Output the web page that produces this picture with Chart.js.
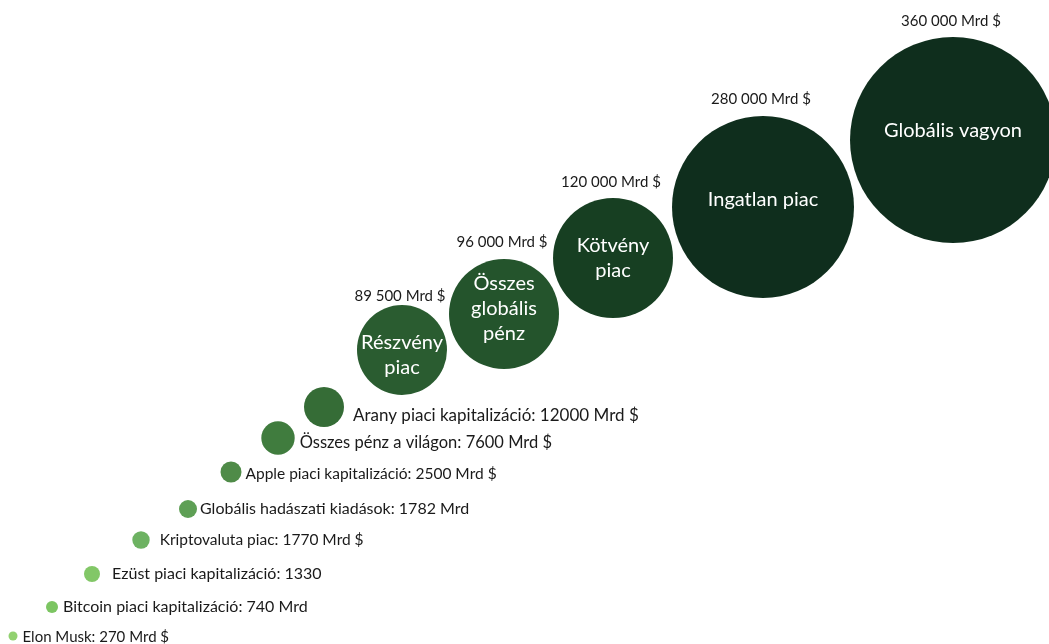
<!DOCTYPE html>
<html>
<head>
<meta charset="utf-8">
<script src="https://cdn.jsdelivr.net/npm/chart.js@4.4.1/dist/chart.umd.min.js"></script>
<style>
  html, body { margin: 0; padding: 0; background: #fff; }
  #wrap { width: 1049px; height: 644px; position: relative; }
</style>
</head>
<body>
<div id="wrap"><canvas id="chart"></canvas></div>
<script>
// items, smallest to largest
const names = [
    'Elon Musk', 'Bitcoin piaci kapitalizáció', 'Ezüst piaci kapitalizáció',
    'Kriptovaluta piac', 'Globális hadászati kiadások', 'Apple piaci kapitalizáció',
    'Összes pénz a világon', 'Arany piaci kapitalizáció', 'Részvény piac',
    'Összes globális pénz', 'Kötvény piac', 'Ingatlan piac', 'Globális vagyon'
];
const values = [270, 740, 1330, 1770, 1782, 2500, 7600, 12000, 89500, 96000, 120000, 280000, 360000];
const valueLabels = [
    'Elon Musk: 270 Mrd $', 'Bitcoin piaci kapitalizáció: 740 Mrd', 'Ezüst piaci kapitalizáció: 1330',
    'Kriptovaluta piac: 1770 Mrd $', 'Globális hadászati kiadások: 1782 Mrd', 'Apple piaci kapitalizáció: 2500 Mrd $',
    'Összes pénz a világon: 7600 Mrd $', 'Arany piaci kapitalizáció: 12000 Mrd $', '89 500 Mrd $',
    '96 000 Mrd $', '120 000 Mrd $', '280 000 Mrd $', '360 000 Mrd $'
];
// text inside the big bubbles
const innerText = [null, null, null, null, null, null, null, null,
    ['Részvény', 'piac'], ['Összes', 'globális', 'pénz'], ['Kötvény', 'piac'], ['Ingatlan piac'], ['Globális vagyon']];
// bubble position (x, y) and size
const posX = [13, 52, 92, 141, 188, 231, 278, 324, 402, 504, 613, 763, 953];
const posY = [8, 37, 70, 104, 135, 172, 206, 237, 294, 330, 386, 437, 504];
const bubbleSize = [4.5, 6, 8, 8.7, 9, 10.5, 16.7, 20, 45, 55, 60, 91, 103];

const colors = ['#92d170', '#7cc562', '#82c767', '#6db262', '#5e9f55', '#4f8b48',
    '#407c3e', '#356c36', '#2a5c30', '#24542c', '#173f22', '#0f2e1d', '#0f2e1d'];
// label tweaks: side labels (dx, dy, font size), top labels gap, inner text shift
const sideOffset = [[5, 1, 15], [5, 0, 16], [12, 0, 16], [10, 0, 15.5], [3, 0, 16], [4, 2, 15.5], [5, 5, 16.5], [9, 9, 17]];
const topGap = {8: 9, 9: 17, 10: 16, 11: 17, 12: 16};
const innerDy = {8: 5, 9: -5, 10: 0, 11: -7, 12: -9};

const FONT = 'Lato, "Open Sans", sans-serif';

const labelPlugin = {
    id: 'bubbleLabels',
    afterDatasetsDraw(chart) {
        const ctx = chart.ctx;
        const meta = chart.getDatasetMeta(0);
        ctx.save();
        meta.data.forEach(function(el, i) {
            const r = el.options.radius;
            if (innerText[i]) {
                // value above
                ctx.fillStyle = '#1a1a1a';
                ctx.font = '15px ' + FONT;
                ctx.textAlign = 'center';
                ctx.textBaseline = 'middle';
                ctx.fillText(valueLabels[i], el.x - 2, el.y - r - topGap[i]);
                // name inside
                const lines = innerText[i];
                const lh = 25;
                ctx.fillStyle = '#ffffff';
                ctx.font = '20px ' + FONT;
                const y0 = el.y + innerDy[i] - (lines.length - 1) * lh / 2;
                lines.forEach(function(t, k) {
                    ctx.fillText(t, el.x, y0 + k * lh);
                });
            } else {
                const o = sideOffset[i];
                ctx.fillStyle = '#1a1a1a';
                ctx.font = o[2] + 'px ' + FONT;
                ctx.textAlign = 'left';
                ctx.textBaseline = 'middle';
                ctx.fillText(valueLabels[i], el.x + r + o[0], el.y + o[1]);
            }
        });
        ctx.restore();
    }
};

const points = names.map(function(n, i) {
    return { x: posX[i], y: posY[i], r: bubbleSize[i], v: values[i] };
});

new Chart(document.getElementById('chart'), {
    type: 'bubble',
    data: {
        datasets: [{
            label: 'Mrd $',
            data: points,
            backgroundColor: colors,
            borderWidth: 0,
            hoverRadius: 0,
            clip: false
        }]
    },
    options: {
        responsive: true,
        maintainAspectRatio: false,
        animation: false,
        layout: { padding: 0, autoPadding: false },
        plugins: {
            legend: { display: false },
            tooltip: { enabled: false }
        },
        scales: {
            x: { type: 'linear', min: 0, max: 1049, display: false },
            y: { type: 'linear', min: 0, max: 644, display: false }
        }
    },
    plugins: [labelPlugin]
});
</script>
</body>
</html>
